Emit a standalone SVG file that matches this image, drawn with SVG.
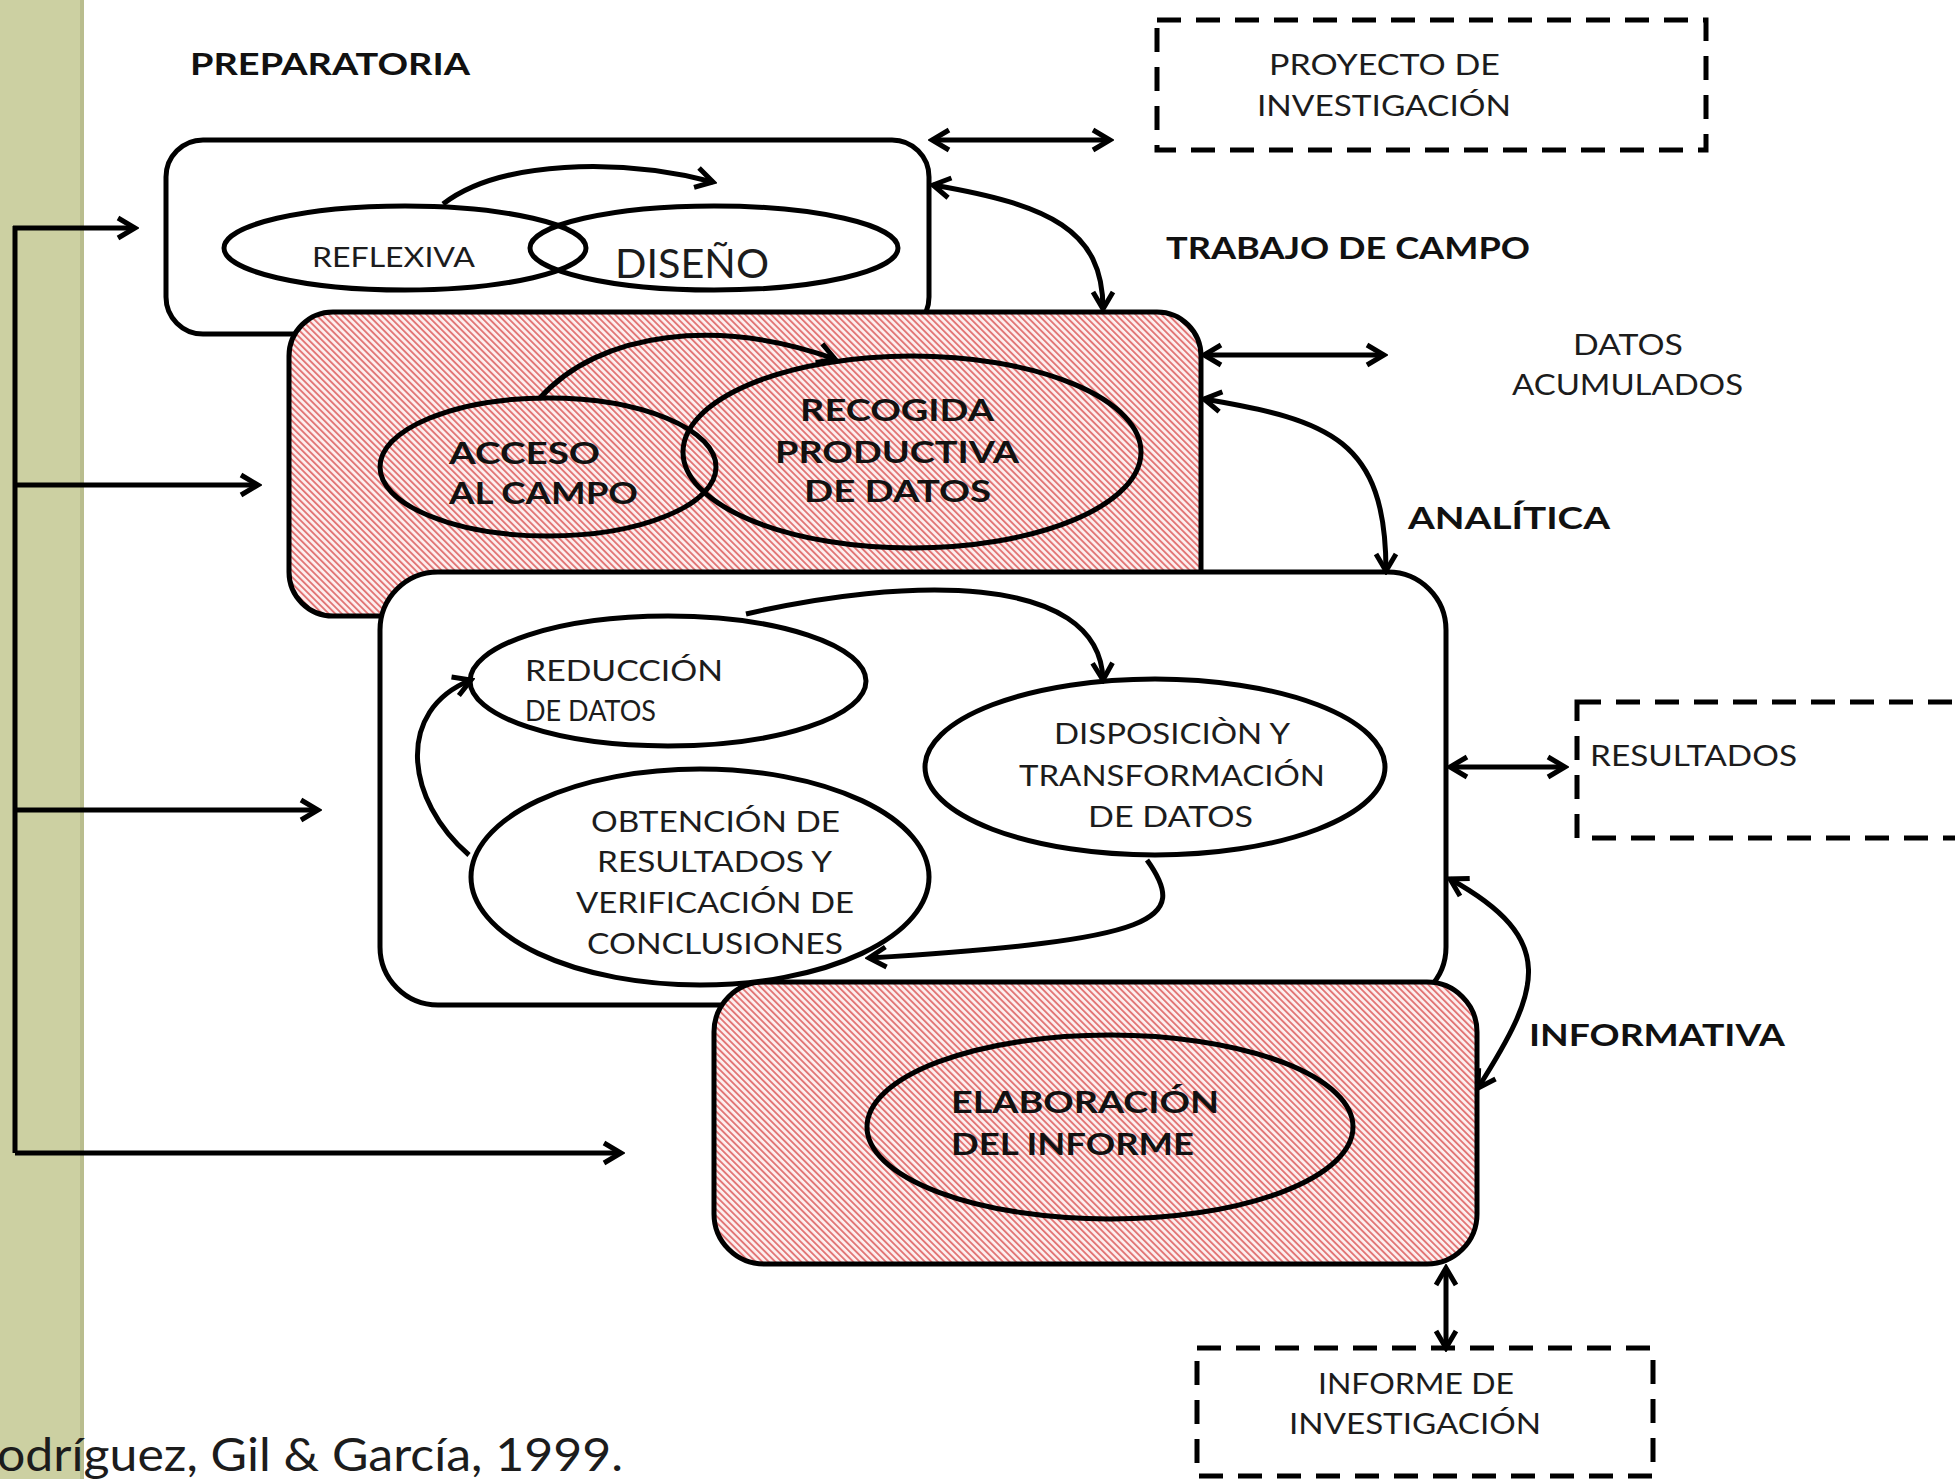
<svg xmlns="http://www.w3.org/2000/svg" width="1955" height="1479" viewBox="0 0 1955 1479">
<style>
.t{font-family:Lato,"Open Sans","Liberation Sans",sans-serif;font-size:29px;fill:#1c1c1c}
.b{font-weight:bold;font-size:30px;fill:#111}
.box{stroke:#000;stroke-width:5}
.ell{fill:none;stroke:#000;stroke-width:5}
.dash{fill:none;stroke:#000;stroke-width:5;stroke-dasharray:24 15}
.ln{fill:none;stroke:#000;stroke-width:5}
.arr{fill:none;stroke:#000;stroke-width:5;marker-end:url(#ah)}
.arr2{fill:none;stroke:#000;stroke-width:5;marker-end:url(#ah);marker-start:url(#ah)}
</style>
<defs>
<pattern id="hatch" patternUnits="userSpaceOnUse" width="4.6" height="4.6" patternTransform="rotate(-45)">
<rect width="4.6" height="4.6" fill="#fdf0f0"/>
<rect x="0" y="0" width="1.9" height="4.6" fill="#e27676"/>
</pattern>
<marker id="ah" viewBox="0 0 26 26" refX="22" refY="13" markerWidth="26" markerHeight="26" markerUnits="userSpaceOnUse" orient="auto-start-reverse">
<path d="M5,3 L22,13 L5,23" fill="none" stroke="#000" stroke-width="5" stroke-linejoin="miter"/>
</marker>
</defs>
<rect width="1955" height="1479" fill="#fff"/>
<rect id="sidebar" x="0" y="0" width="84" height="1479" fill="#ccd0a2"/>
<rect x="80" y="0" width="4" height="1479" fill="#b9bd8e"/>

<text class="t b" x="190" y="75" textLength="280" lengthAdjust="spacingAndGlyphs">PREPARATORIA</text>
<text class="t b" x="1166" y="259" textLength="364" lengthAdjust="spacingAndGlyphs">TRABAJO DE CAMPO</text>
<text class="t" x="1573" y="355" textLength="110" lengthAdjust="spacingAndGlyphs">DATOS</text>
<text class="t" x="1512" y="395" textLength="231" lengthAdjust="spacingAndGlyphs">ACUMULADOS</text>
<text class="t b" x="1408" y="529" textLength="202" lengthAdjust="spacingAndGlyphs">ANALÍTICA</text>
<text class="t b" x="1529" y="1046" textLength="256" lengthAdjust="spacingAndGlyphs">INFORMATIVA</text>
<text class="t" x="-3" y="1471" style="font-size:46px" textLength="626" lengthAdjust="spacingAndGlyphs">odríguez, Gil &amp; García, 1999.</text>

<g id="proyecto">
<rect class="dash" x="1157" y="20" width="549" height="130"/>
<text class="t" x="1269" y="75" textLength="231" lengthAdjust="spacingAndGlyphs">PROYECTO DE</text>
<text class="t" x="1257" y="116" textLength="254" lengthAdjust="spacingAndGlyphs">INVESTIGACIÓN</text>
</g>
<g id="resultados">
<rect class="dash" x="1577" y="702" width="400" height="136"/>
<text class="t" x="1590" y="766" textLength="207" lengthAdjust="spacingAndGlyphs">RESULTADOS</text>
</g>
<g id="informe">
<rect class="dash" x="1197" y="1348" width="456" height="128"/>
<text class="t" x="1318" y="1394" textLength="196" lengthAdjust="spacingAndGlyphs">INFORME DE</text>
<text class="t" x="1289" y="1434" textLength="252" lengthAdjust="spacingAndGlyphs">INVESTIGACIÓN</text>
</g>

<g id="preparatoria">
<rect class="box" x="166" y="140" width="763" height="194" rx="37" fill="#fff"/>
<ellipse class="ell" cx="405" cy="248" rx="181" ry="42"/>
<ellipse class="ell" cx="714" cy="248" rx="184" ry="42"/>
<text class="t" x="312" y="267" style="font-size:27px" textLength="163" lengthAdjust="spacingAndGlyphs">REFLEXIVA</text>
<text class="t" x="615" y="278" style="font-size:40px" textLength="154" lengthAdjust="spacingAndGlyphs">DISEÑO</text>
</g>
<g id="campo">
<rect class="box" x="289" y="312" width="912" height="304" rx="44" fill="url(#hatch)"/>
<ellipse class="ell" cx="548" cy="467" rx="168" ry="69"/>
<ellipse class="ell" cx="912" cy="452" rx="229" ry="96"/>
<text class="t b" x="449" y="464" textLength="151" lengthAdjust="spacingAndGlyphs">ACCESO</text>
<text class="t b" x="449" y="504" textLength="189" lengthAdjust="spacingAndGlyphs">AL CAMPO</text>
<text class="t b" x="800" y="421" textLength="194" lengthAdjust="spacingAndGlyphs">RECOGIDA</text>
<text class="t b" x="775" y="463" textLength="244" lengthAdjust="spacingAndGlyphs">PRODUCTIVA</text>
<text class="t b" x="804" y="502" textLength="187" lengthAdjust="spacingAndGlyphs">DE DATOS</text>
</g>
<g id="analitica">
<rect class="box" x="380" y="572" width="1066" height="433" rx="58" fill="#fff"/>
<ellipse class="ell" cx="668" cy="681" rx="198" ry="65"/>
<ellipse class="ell" cx="1155" cy="767" rx="230" ry="88"/>
<ellipse class="ell" cx="700" cy="877" rx="229" ry="108"/>
<text class="t" x="525" y="681" textLength="198" lengthAdjust="spacingAndGlyphs">REDUCCIÓN</text>
<text class="t" x="525" y="721" textLength="131" lengthAdjust="spacingAndGlyphs">DE DATOS</text>
<text class="t" x="1054" y="744" textLength="236" lengthAdjust="spacingAndGlyphs">DISPOSICIÒN Y</text>
<text class="t" x="1019" y="786" textLength="306" lengthAdjust="spacingAndGlyphs">TRANSFORMACIÓN</text>
<text class="t" x="1088" y="827" textLength="165" lengthAdjust="spacingAndGlyphs">DE DATOS</text>
<text class="t" x="591" y="832" textLength="249" lengthAdjust="spacingAndGlyphs">OBTENCIÓN DE</text>
<text class="t" x="597" y="872" textLength="235" lengthAdjust="spacingAndGlyphs">RESULTADOS Y</text>
<text class="t" x="576" y="913" textLength="278" lengthAdjust="spacingAndGlyphs">VERIFICACIÓN DE</text>
<text class="t" x="587" y="954" textLength="256" lengthAdjust="spacingAndGlyphs">CONCLUSIONES</text>
</g>
<g id="informativa">
<rect class="box" x="714" y="982" width="763" height="282" rx="50" fill="url(#hatch)"/>
<ellipse class="ell" cx="1110" cy="1127" rx="243" ry="92"/>
<text class="t b" x="951" y="1113" textLength="268" lengthAdjust="spacingAndGlyphs">ELABORACIÓN</text>
<text class="t b" x="951" y="1155" textLength="243" lengthAdjust="spacingAndGlyphs">DEL INFORME</text>
</g>

<g id="connectors">
<path class="ln" d="M15,226 V1153"/>
<path class="arr" d="M13,228 H135"/>
<path class="arr" d="M15,485 H258"/>
<path class="arr" d="M15,810 H318"/>
<path class="arr" d="M15,1153 H621"/>
<path class="arr" d="M443,204 C500,160 620,158 713,182"/>
<path class="arr" d="M539,399 C600,330 720,318 835,359"/>
<path class="arr" d="M746,614 C900,578 1100,570 1103,680"/>
<path class="arr" d="M1147,860 C1190,920 1160,940 869,958"/>
<path class="arr" d="M469,855 C405,800 395,710 471,680"/>
<path class="arr2" d="M932,140 H1110"/>
<path class="arr2" d="M933,185 C1050,205 1103,230 1103,309"/>
<path class="arr2" d="M1204,355 H1384"/>
<path class="arr2" d="M1204,399 C1330,420 1386,440 1386,571"/>
<path class="arr2" d="M1450,767 H1565"/>
<path class="arr2" d="M1450,879 C1560,940 1540,990 1478,1088"/>
<path class="arr2" d="M1446,1268 V1348"/>
</g>
</svg>
